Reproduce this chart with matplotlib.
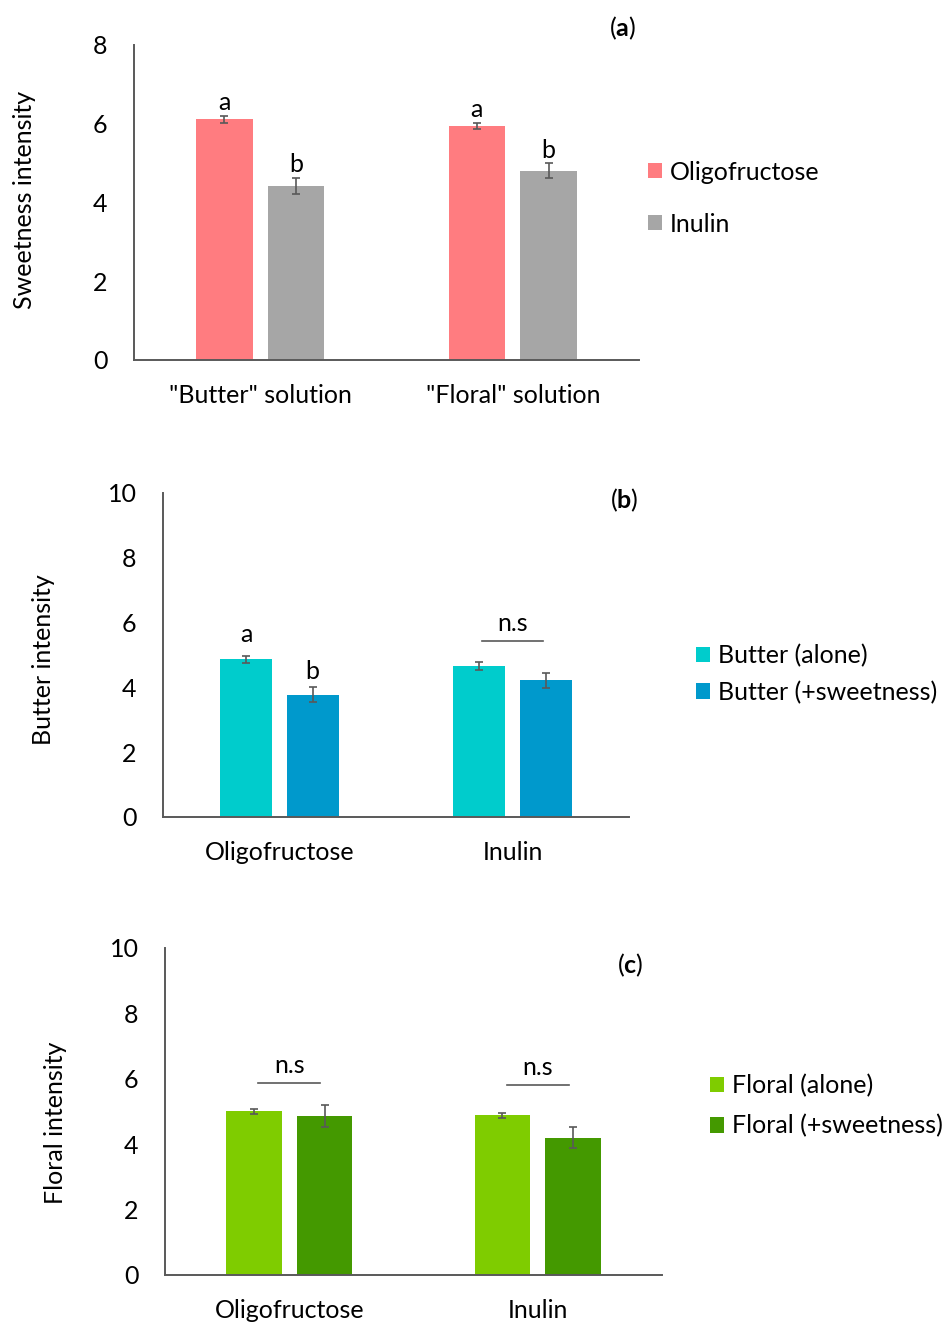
import numpy as np
import matplotlib
matplotlib.use("Agg")
import matplotlib.pyplot as plt

plt.rcParams['font.family'] = ['Lato', 'DejaVu Sans']
plt.rcParams['mathtext.fontset'] = 'custom'
plt.rcParams['mathtext.rm'] = 'Lato'
plt.rcParams['mathtext.bf'] = 'Lato:bold'

# (a) sweetness of the two aroma solutions
sweet_groups = ['"Butter" solution', '"Floral" solution']
sweet_series = ['Oligofructose', 'Inulin']
sweet_means = [[6.11, 5.94], [4.42, 4.81]]
sweet_err = [[0.09, 0.08], [0.20, 0.19]]
sweet_letters = [['a', 'a'], ['b', 'b']]
sweet_letter_y = [[6.35, 6.18], [4.78, 5.13]]

# (b) butter intensity
fiber_groups = ['Oligofructose', 'Inulin']
butter_series = ['Butter (alone)', 'Butter (+sweetness)']
butter_means = [[4.87, 4.66], [3.78, 4.22]]
butter_err = [[0.11, 0.11], [0.24, 0.23]]
butter_letters = [['a', None], ['b', None]]
butter_letter_y = [[5.41, None], [4.25, None]]
butter_ns = [None, 5.44]

# (c) floral intensity
floral_series = ['Floral (alone)', 'Floral (+sweetness)']
floral_means = [[5.01, 4.88], [4.86, 4.20]]
floral_err = [[0.08, 0.08], [0.33, 0.33]]
floral_ns = [5.87, 5.81]

grey = '#595959'
FS = 18
W, H = 951, 1324
fig = plt.figure(figsize=(W / 100, H / 100), dpi=100)


def px_axes(left, top, right, bottom):
    return fig.add_axes([left / W, 1 - bottom / H, (right - left) / W, (bottom - top) / H])


def bar_panel(ax, groups, series, means, errs, colors, ymax, ylabel, ylab_xy):
    x = np.arange(len(groups))
    width = 0.223
    offs = [-0.142, 0.142]
    for i in range(len(series)):
        ax.bar(x + offs[i], means[i], width, color=colors[i], label=series[i],
               yerr=errs[i], error_kw=dict(ecolor=grey, elinewidth=1.2, capsize=3, capthick=1.2))
    ax.set_xlim(-0.5, len(groups) - 0.5)
    ax.set_ylim(0, ymax)
    ax.set_yticks(np.arange(0, ymax + 1, 2))
    ax.set_xticks(x)
    ax.set_xticklabels(groups, fontsize=FS)
    ax.tick_params(axis='both', length=0, labelsize=FS)
    ax.tick_params(axis='x', pad=17)
    ax.tick_params(axis='y', pad=19)
    for s in ['top', 'right']:
        ax.spines[s].set_visible(False)
    for s in ['left', 'bottom']:
        ax.spines[s].set_color(grey)
        ax.spines[s].set_linewidth(1.4)
    ax.text(ylab_xy[0], ylab_xy[1], ylabel, transform=ax.transAxes, rotation=90,
            ha='center', va='center', fontsize=FS)
    return x, offs


def letters(ax, x, offs, labels, ys):
    for i in range(len(labels)):
        for j in range(len(labels[i])):
            if labels[i][j]:
                ax.text(x[j] + offs[i], ys[i][j], labels[i][j], ha='center', va='baseline', fontsize=FS)


def ns_marks(ax, x, ys, half):
    for j, y in enumerate(ys):
        if y is None:
            continue
        ax.plot([x[j] - half, x[j] + half], [y, y], color=grey, lw=1.2)
        ax.annotate('n.s', (x[j], y), xytext=(0, 7), textcoords='offset points',
                    ha='center', va='baseline', fontsize=FS)


def legend(ax, anchor, spacing):
    ax.legend(loc='center left', bbox_to_anchor=anchor, frameon=False, fontsize=FS,
              handlelength=0.56, handleheight=0.56, handletextpad=0.3,
              labelspacing=spacing, borderpad=0, borderaxespad=0)


# panel (a)
ax1 = px_axes(134, 45, 639, 360)
x, offs = bar_panel(ax1, sweet_groups, sweet_series, sweet_means, sweet_err,
                    ['#FF7C80', '#A6A6A6'], 8, 'Sweetness intensity', (-0.216, 0.508))
letters(ax1, x, offs, sweet_letters, sweet_letter_y)
legend(ax1, (1.018, 0.514), 1.16)
fig.text(622 / W, 1 - 28 / H, r'$\mathrm{(}\mathbf{a}\mathrm{)}$', ha='center', va='center', fontsize=FS)

# panel (b)
ax2 = px_axes(163, 493, 629, 817)
x, offs = bar_panel(ax2, fiber_groups, butter_series, butter_means, butter_err,
                    ['#00CCCC', '#0099CC'], 10, 'Butter intensity', (-0.2575, 0.485))
letters(ax2, x, offs, butter_letters, butter_letter_y)
ns_marks(ax2, x, butter_ns, 0.133)
legend(ax2, (1.144, 0.441), 0.52)
fig.text(624 / W, 1 - 500 / H, r'$\mathrm{(}\mathbf{b}\mathrm{)}$', ha='center', va='center', fontsize=FS)

# panel (c)
ax3 = px_axes(165, 948, 662, 1275)
x, offs = bar_panel(ax3, fiber_groups, floral_series, floral_means, floral_err,
                    ['#7FCC00', '#449900'], 10, 'Floral intensity', (-0.221, 0.465))
ns_marks(ax3, x, floral_ns, 0.125)
legend(ax3, (1.097, 0.517), 0.68)
fig.text(630 / W, 1 - 965 / H, r'$\mathrm{(}\mathbf{c}\mathrm{)}$', ha='center', va='center', fontsize=FS)

fig.savefig('out.png', dpi=100)
